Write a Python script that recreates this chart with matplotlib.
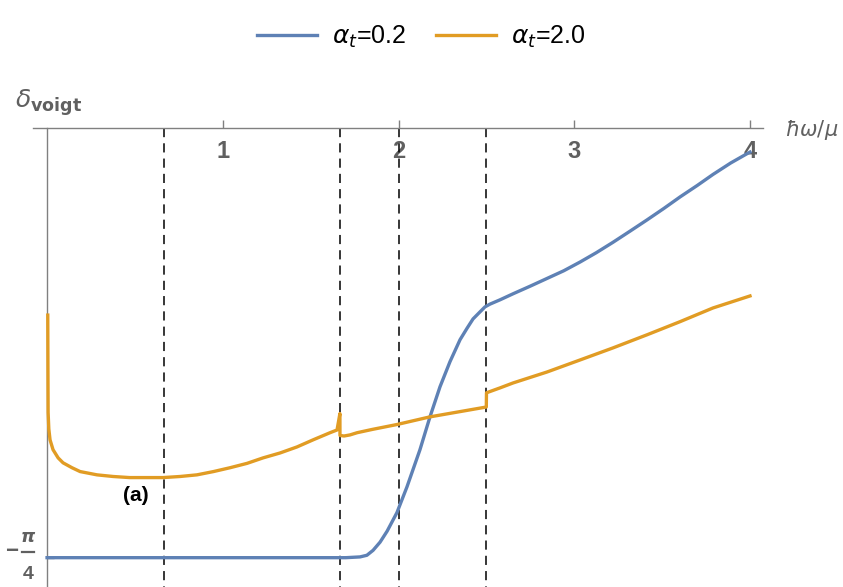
import matplotlib
matplotlib.use('Agg')
import matplotlib.pyplot as plt
import numpy as np

plt.rcParams['font.family'] = ['Liberation Sans', 'DejaVu Sans']
plt.rcParams['mathtext.fontset'] = 'dejavusans'

# --- data ---
x_blue = [0.0, 0.5, 1.0, 1.5, 1.70, 1.781, 1.82, 1.855, 1.895, 1.935, 1.991,
          2.048, 2.122, 2.179, 2.236, 2.293, 2.350, 2.39, 2.424, 2.464, 2.492,
          2.52, 2.578, 2.652, 2.75, 2.845, 2.94, 3.033, 3.125, 3.220, 3.32,
          3.414, 3.51, 3.602, 3.70, 3.789, 3.89, 3.983, 4.0]
y_blue = [-0.7854, -0.7854, -0.7854, -0.7854, -0.7854, -0.784, -0.781, -0.772,
          -0.757, -0.737, -0.703, -0.656, -0.588, -0.528, -0.473, -0.427,
          -0.387, -0.366, -0.349, -0.336, -0.327, -0.322, -0.314, -0.303,
          -0.289, -0.275, -0.261, -0.245, -0.228, -0.209, -0.188, -0.168,
          -0.147, -0.126, -0.105, -0.085, -0.064, -0.047, -0.044]

x_orange = [0.004, 0.005, 0.006, 0.010, 0.017, 0.034, 0.063, 0.091, 0.142,
            0.188, 0.284, 0.376, 0.47, 0.660, 0.757, 0.853, 0.947, 1.041,
            1.138, 1.229, 1.326, 1.422, 1.514, 1.610, 1.650, 1.6665, 1.6668,
            1.69, 1.724, 1.764, 1.85, 1.991, 2.179, 2.4995, 2.5005, 2.578,
            2.652, 2.845, 3.033, 3.220, 3.414, 3.602, 3.789, 4.0]
y_orange = [-0.342, -0.440, -0.520, -0.550, -0.570, -0.588, -0.603, -0.612,
            -0.621, -0.628, -0.634, -0.637, -0.639, -0.639, -0.637, -0.634,
            -0.628, -0.621, -0.613, -0.603, -0.594, -0.583, -0.570, -0.557,
            -0.552, -0.522, -0.562, -0.563, -0.561, -0.557, -0.551, -0.542,
            -0.528, -0.510, -0.484, -0.475, -0.466, -0.446, -0.424, -0.402,
            -0.378, -0.354, -0.329, -0.307]

vlines_x = [2 / 3, 5 / 3, 2.0, 2.5]
xtick_vals = [1, 2, 3, 4]
labels = [r'$\alpha_t$=0.2', r'$\alpha_t$=2.0']
colors = ['#5E81B5', '#E19C24']

fig = plt.figure(figsize=(8.43, 5.87), dpi=100)
ax = fig.add_axes([33 / 843, 0, 730 / 843, 459 / 587])

ax.plot(x_blue, y_blue, color=colors[0], lw=2.4, label=labels[0], zorder=3,
        solid_joinstyle='round')
ax.plot(x_orange, y_orange, color=colors[1], lw=2.4, label=labels[1], zorder=3,
        solid_joinstyle='round')

for xv in vlines_x:
    ax.plot([xv, xv], [0, -0.9], color='black', lw=1.1, ls=(0, (6, 4)), zorder=2)

ax.set_xlim(-0.08, 4.074)
ax.set_ylim(-0.839, 0)

gray = '#808080'
lab = '#606060'
for s in ['top', 'right']:
    ax.spines[s].set_visible(False)
ax.spines['bottom'].set_position(('data', 0))
ax.spines['left'].set_position(('data', 0))
for s in ['bottom', 'left']:
    ax.spines[s].set_color(gray)
    ax.spines[s].set_linewidth(1.0)

ax.set_xticks(xtick_vals)
ax.set_xticklabels([str(v) for v in xtick_vals], fontsize=17, fontweight='bold', color=lab)
ax.tick_params(axis='x', direction='in', length=6, width=1, color=gray, pad=9)

# y tick at -pi/4, label drawn as a stacked fraction
yt = -np.pi / 4
ax.set_yticks([yt])
ax.set_yticklabels([''])
ax.tick_params(axis='y', direction='in', length=5, width=1, color=gray)
ax.text(-0.205, yt + 0.012, '\u2212', fontsize=16, fontweight='bold', color=lab,
        ha='center', va='center', clip_on=False)
ax.text(-0.108, yt + 0.036, r'$\boldsymbol{\pi}$', fontsize=13, color=lab,
        ha='center', va='center', clip_on=False)
ax.plot([-0.142, -0.074], [yt + 0.010, yt + 0.010], color=lab, lw=1.6, clip_on=False)
ax.text(-0.108, yt - 0.030, '4', fontsize=14, fontweight='bold', color=lab,
        ha='center', va='center', clip_on=False)

ax.patch.set_visible(False)

fig.text(15 / 843, 1 - 103 / 587, r'$\delta_{\mathbf{voigt}}$', fontsize=18, color=lab,
         va='center', ha='left')
fig.text(785 / 843, 1 - 130 / 587, r'$\hbar\omega/\mu$', fontsize=15, color=lab,
         va='center', ha='left')
ax.text(0.505, -0.672, '(a)', fontsize=15, fontweight='bold', ha='center', va='center')

fig.legend(loc='center', bbox_to_anchor=(421 / 843, 1 - 37 / 587), ncol=2, frameon=False,
           fontsize=18, handlelength=2.4, handletextpad=0.6, columnspacing=1.2)

fig.savefig('out.png', dpi=100)
